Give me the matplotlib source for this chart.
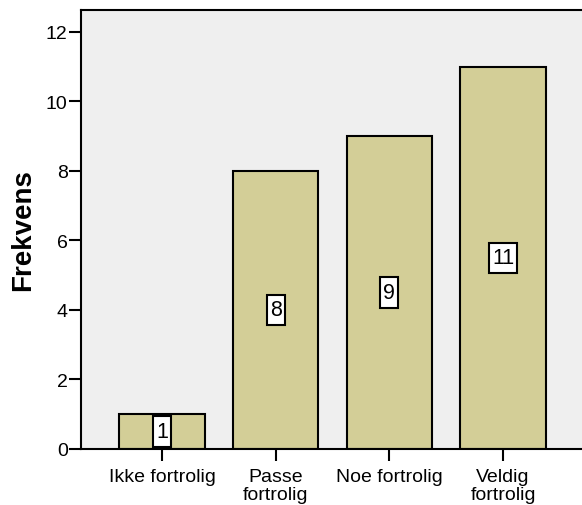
import matplotlib
matplotlib.use("Agg")
import matplotlib.pyplot as plt
from matplotlib.path import Path

categories = ["Ikke fortrolig", "Passe\nfortrolig", "Noe fortrolig", "Veldig\nfortrolig"]
counts = [1, 8, 9, 11]
yticks = [0, 2, 4, 6, 8, 10, 12]

plt.rcParams["font.family"] = ["Liberation Sans", "DejaVu Sans"]


def tall_box(x0, y0, width, height, mutation_size):
    """Square box with less horizontal than vertical padding."""
    px = 0.14 * mutation_size
    py = 0.22 * mutation_size
    x0, y0 = x0 - px, y0 - py
    x1, y1 = x0 + width + 2 * px, y0 + height + 2 * py
    return Path([(x0, y0), (x1, y0), (x1, y1), (x0, y1), (x0, y0)],
                closed=True)


fig = plt.figure(figsize=(5.82, 5.06), dpi=100)
ax = fig.add_axes([81 / 582, 1 - 450 / 506, 1 - 81 / 582, (450 - 11) / 506])
ax.set_facecolor("#EFEFEF")

x = list(range(len(categories)))
ax.bar(x, counts, width=0.75, color="#D3CE97", edgecolor="black", linewidth=1.5, zorder=2)

for xi, v in zip(x, counts):
    ax.text(xi, v / 2, str(v), ha="center", va="center", fontsize=15.5, zorder=4,
            bbox=dict(boxstyle=tall_box, facecolor="white", edgecolor="black", linewidth=1.5))

ax.set_xlim(-0.713, 3.695)
ax.set_ylim(0, 12.63)
ax.set_yticks(yticks)
ax.set_xticks(x)
ax.set_xticklabels(categories, fontsize=14, linespacing=1.08)
ax.tick_params(axis="y", labelsize=14, length=8.6, width=1.5, direction="out", pad=1)
ax.tick_params(axis="x", length=8.6, width=1.5, direction="out", pad=5)

for side in ["left", "bottom", "top"]:
    ax.spines[side].set_linewidth(1.5)
ax.spines["right"].set_visible(False)

ax.set_ylabel("Frekvens", fontsize=20, fontweight="bold", labelpad=7)

fig.savefig("out.png", dpi=100)
